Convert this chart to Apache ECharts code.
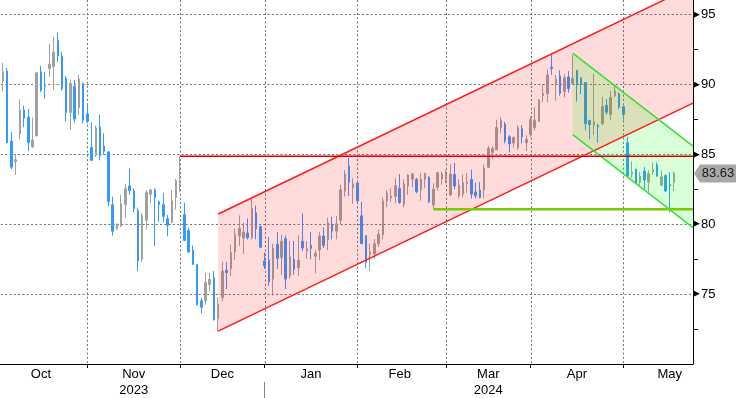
<!DOCTYPE html>
<html>
<head>
<meta charset="utf-8">
<script src="https://cdn.jsdelivr.net/npm/echarts@6.0.0/dist/echarts.min.js"></script>
<style>
  html, body { margin: 0; padding: 0; background: #fff; }
  #chart { width: 736px; height: 398px; }
</style>
</head>
<body>
<div id="chart"></div>
<script>
// daily candles, one row per session: [open, close, low, high]
var oct23 = [
  [88.0, 90.0, 87.5, 90.9], [90.23, 90.88, 89.49, 91.53], [90.95, 85.81, 85.8, 91.16],
  [85.93, 84.07, 83.91, 86.58], [84.47, 84.6, 83.51, 84.95], [86.44, 88.16, 86.05, 88.93],
  [88.16, 87.56, 86.93, 88.47], [87.65, 85.81, 85.23, 88.23], [85.53, 86.0, 85.44, 87.63],
  [86.3, 90.81, 86.3, 90.88], [90.88, 89.56, 89.44, 91.3], [89.85, 89.81, 88.95, 90.88],
  [91.12, 91.44, 90.53, 92.9], [91.26, 92.28, 89.6, 93.4], [93.12, 92.02, 91.58, 93.67],
  [92.02, 89.67, 89.55, 92.33], [90.4, 87.98, 87.35, 90.6], [87.98, 90.05, 86.72, 90.33],
  [89.84, 87.51, 87.26, 90.3], [88.33, 90.37, 87.81, 90.67], [90.05, 87.42, 87.2, 90.12],
  [87.88, 87.35, 87.2, 88.58]
];
var nov23 = [
  [85.47, 84.56, 84.56, 87.26], [84.95, 86.86, 84.79, 87.02], [86.93, 84.9, 84.56, 87.81],
  [85.58, 85.19, 84.95, 86.49], [85.16, 81.61, 81.3, 85.2], [81.38, 79.49, 79.19, 81.95],
  [79.65, 80.0, 79.6, 80.06], [79.84, 81.45, 79.84, 82.09], [81.4, 82.52, 80.43, 82.87],
  [82.73, 82.4, 82.09, 83.98], [82.37, 81.1, 80.84, 82.56], [80.95, 77.36, 76.65, 81.19],
  [77.48, 80.62, 77.29, 80.79], [80.27, 82.28, 79.63, 82.42], [82.14, 82.44, 81.5, 82.52],
  [82.44, 81.9, 78.42, 82.56], [81.59, 81.4, 80.17, 81.69], [81.38, 80.55, 80.13, 82.23],
  [80.39, 79.91, 79.13, 80.65], [80.13, 81.66, 80.08, 82.44], [81.9, 83.11, 81.03, 83.23],
  [82.75, 82.88, 82.3, 84.85]
];
var dec23 = [
  [80.67, 78.83, 78.78, 81.52], [79.54, 78.0, 77.95, 79.75], [78.12, 77.12, 77.07, 78.47],
  [77.12, 74.24, 74.17, 77.12], [74.52, 74.05, 73.62, 74.71], [74.52, 75.84, 74.24, 76.5],
  [75.66, 76.06, 75.23, 76.5], [76.18, 73.17, 73.1, 76.65], [73.22, 74.28, 72.34, 74.76],
  [74.76, 76.63, 74.47, 77.31], [76.7, 76.53, 75.36, 77.3], [76.82, 77.96, 76.3, 78.53],
  [78.01, 79.24, 77.44, 79.69], [79.15, 79.69, 78.44, 80.62], [79.0, 79.43, 77.87, 80.1],
  [79.36, 79.03, 78.91, 80.4], [79.03, 81.11, 78.91, 81.8], [80.81, 79.67, 78.91, 81.33],
  [79.81, 78.34, 78.27, 79.9], [77.37, 77.01, 76.8, 77.96]
];
var jan24 = [
  [77.42, 75.88, 75.6, 79.08], [76.07, 78.27, 74.88, 78.6], [78.55, 77.56, 76.78, 79.43],
  [77.63, 78.77, 76.37, 79.24], [78.96, 76.07, 75.36, 79.19], [76.3, 77.65, 76.1, 78.79],
  [77.49, 76.78, 76.37, 78.79], [76.9, 77.41, 76.3, 79.2], [78.77, 78.29, 78.06, 80.76],
  [78.06, 78.25, 77.53, 78.79], [78.48, 78.27, 77.49, 79.43], [77.7, 77.91, 76.49, 78.15],
  [78.15, 79.15, 77.44, 79.43], [79.15, 78.48, 78.29, 79.76], [78.86, 80.09, 78.13, 80.45],
  [79.98, 79.5, 78.91, 80.52], [79.5, 80.02, 78.91, 80.57], [80.28, 82.46, 80.0, 82.82],
  [82.37, 83.58, 81.97, 83.86], [84.15, 82.99, 82.01, 84.72], [82.61, 82.87, 81.45, 83.29],
  [82.94, 81.66, 81.6, 82.94]
];
var feb24 = [
  [80.59, 78.6, 78.6, 81.59], [79.17, 77.27, 76.87, 79.17], [77.82, 77.99, 76.66, 78.6],
  [77.87, 78.6, 77.51, 78.93], [78.6, 79.27, 78.37, 79.6], [79.24, 81.66, 78.89, 81.9],
  [81.66, 82.2, 81.21, 82.44], [81.87, 82.01, 81.59, 82.56], [81.97, 82.75, 81.5, 83.27],
  [82.56, 81.54, 81.45, 83.58], [81.42, 82.87, 81.2, 83.2], [82.73, 83.51, 82.09, 83.58],
  [83.22, 83.58, 82.63, 83.67], [83.2, 82.32, 82.2, 83.3], [82.44, 83.2, 81.68, 83.67],
  [83.2, 83.63, 82.6, 83.67], [83.34, 81.59, 81.5, 83.44], [81.37, 82.49, 81.1, 82.91],
  [82.63, 83.67, 82.4, 83.74], [83.22, 83.58, 82.8, 83.74], [83.2, 83.6, 82.9, 83.9]
];
var mar24 = [
  [82.09, 83.58, 82.0, 84.3], [83.54, 82.72, 82.49, 84.37], [82.02, 82.77, 81.83, 83.19],
  [82.14, 82.96, 81.9, 83.54], [82.91, 83.0, 82.25, 83.66], [83.19, 82.14, 81.83, 83.9],
  [82.3, 82.02, 81.83, 82.96], [82.44, 81.9, 81.83, 83.0], [82.44, 84.01, 81.83, 84.25],
  [84.06, 85.42, 84.06, 85.59], [85.12, 85.4, 84.65, 85.59], [85.31, 86.9, 85.31, 87.46],
  [86.9, 87.42, 86.48, 87.65], [87.14, 85.96, 85.77, 87.3], [86.24, 85.73, 85.12, 86.36],
  [85.8, 86.2, 85.47, 86.24], [85.47, 86.9, 85.31, 87.07], [86.83, 86.24, 85.77, 87.07],
  [85.82, 86.06, 85.23, 86.36], [86.41, 87.49, 86.24, 87.7]
];
var apr24 = [
  [86.9, 87.42, 86.7, 88.36], [87.35, 88.87, 87.3, 88.94], [89.2, 89.34, 88.71, 90.0],
  [89.34, 90.66, 88.71, 91.06], [91.22, 91.13, 90.66, 92.1], [90.05, 90.35, 88.83, 90.66],
  [90.59, 89.34, 89.18, 90.99], [89.48, 90.47, 89.06, 90.7], [90.52, 89.69, 89.41, 90.94],
  [90.05, 90.42, 89.95, 92.11], [90.99, 90.05, 88.76, 90.99], [90.42, 90.0, 89.3, 90.52],
  [90.12, 87.18, 86.71, 90.12], [87.42, 87.11, 86.08, 87.42], [87.07, 87.3, 86.36, 90.75],
  [87.07, 86.95, 85.82, 87.18], [87.18, 88.4, 87.07, 89.11], [88.47, 88.0, 87.84, 88.94],
  [87.84, 89.06, 87.42, 89.53], [89.18, 89.53, 89.06, 89.88], [89.3, 88.36, 88.24, 89.41],
  [88.4, 87.84, 87.46, 88.45]
];
var may24 = [
  [85.82, 83.47, 83.43, 86.24], [83.57, 83.71, 83.31, 84.48], [83.94, 82.91, 82.91, 83.94],
  [83.0, 83.43, 82.79, 83.73], [83.78, 83.15, 82.49, 84.08], [83.0, 83.61, 82.2, 83.85],
  [83.75, 83.9, 83.54, 84.41], [84.25, 83.43, 83.38, 84.41], [82.77, 83.38, 82.77, 83.85],
  [83.47, 82.37, 82.3, 83.54], [82.84, 82.72, 80.85, 83.71], [83.0, 83.63, 82.37, 83.78]
];

var monthNames = ['Oct', 'Nov', 'Dec', 'Jan', 'Feb', 'Mar', 'Apr', 'May'];
var monthSessions = [22, 22, 20, 22, 21, 20, 22, 22]; // full month (May still running)
var yearNames = ['2023', '2024'];
var yearMonth = [1, 5];          // year label sits under Nov / Mar
var emptySlots = 4;
var lastPrice = 83.63;
var halfTicks = [72.5, 77.5, 82.5, 87.5, 92.5];

// drawings, [session index, price]
var redUpper = [[52, 80.72], [164.5, 97.02]];
var redLower = [[52, 72.35], [164.5, 88.65]];
var greenUpper = [[136, 92.22], [164.5, 85.57]];
var greenLower = [[136, 86.40], [164.5, 79.75]];
var redLevel = [[43, 84.85], [164.5, 84.85]];
var greenLevel = [[103, 81.06], [164.5, 81.06]];

var months = [oct23, nov23, dec23, jan24, feb24, mar24, apr24, may24];
var candles = [];
var categories = [];
months.forEach(function (m, mi) {
  m.forEach(function (row, k) {
    candles.push(row);
    categories.push(monthNames[mi] + ' ' + (k + 1));
  });
});
for (var e = 0; e < emptySlots; e++) categories.push('');
var N = categories.length;

var monthEnds = [];
var acc = -1;
monthSessions.forEach(function (n) { acc += n; monthEnds.push(acc); });
var monthLabelAt = {};
monthEnds.forEach(function (end, i) {
  var prev = i ? monthEnds[i - 1] : -1;
  monthLabelAt[Math.floor((prev + end) / 2)] = monthNames[i];
});
var yearLabelAt = {};
yearMonth.forEach(function (mi, k) {
  var prev = mi ? monthEnds[mi - 1] : -1;
  yearLabelAt[Math.floor((prev + monthEnds[mi]) / 2)] = yearNames[k];
});
var yearBreak = monthEnds[2];
var gridEnds = monthEnds.filter(function (v) { return v < candles.length; });

var chart = echarts.init(document.getElementById('chart'), null, { renderer: 'canvas' });

var FONT = 'Liberation Sans';

function bandSeries(up, low, fill) {
  return {
    type: 'custom', xAxisIndex: 1, yAxisIndex: 0, z: 3, silent: true, clip: true,
    data: [[up[0][0], up[0][1]]],
    renderItem: function (params, api) {
      var pts = [api.coord(up[0]), api.coord(up[1]), api.coord(low[1]), api.coord(low[0])];
      return { type: 'polygon', shape: { points: pts }, style: { fill: fill } };
    }
  };
}
function lineSeries(pts, color, width, z) {
  return {
    type: 'line', xAxisIndex: 1, yAxisIndex: 0, data: pts, symbol: 'none', silent: true,
    z: z || 4, clip: true, lineStyle: { color: color, width: width }
  };
}

var option = {
  animation: false,
  backgroundColor: '#fff',
  grid: { left: -3.4, right: 43, top: 0, bottom: 34, containLabel: false, outerBoundsMode: 'none' },
  xAxis: [
    {
      type: 'category', data: categories, boundaryGap: true,
      axisLine: { show: true, onZero: false, lineStyle: { color: '#000', width: 1 } },
      axisTick: {
        show: true, alignWithLabel: true, length: 4, lineStyle: { color: '#000' },
        interval: function (i) { return gridEnds.indexOf(i) >= 0; }
      },
      axisLabel: {
        interval: function (i) { return monthLabelAt[i] !== undefined; },
        formatter: function (v, i) { return monthLabelAt[i] || ''; },
        color: '#000', fontFamily: FONT, fontSize: 13, margin: 4
      },
      splitLine: { show: false }
    },
    { type: 'value', min: -0.5, max: N - 0.5, show: false, axisLine: { onZero: false } },
    {
      type: 'category', data: categories, boundaryGap: true, position: 'bottom', offset: 18,
      axisLine: { show: false, onZero: false },
      axisTick: {
        show: true, alignWithLabel: true, length: 16, lineStyle: { color: '#808080' },
        interval: function (i) { return i === yearBreak; }
      },
      axisLabel: {
        interval: function (i) { return yearLabelAt[i] !== undefined; },
        formatter: function (v, i) { return yearLabelAt[i] || ''; },
        color: '#000', fontFamily: FONT, fontSize: 13, margin: 2
      },
      splitLine: { show: false }
    }
  ],
  yAxis: [{
    type: 'value', position: 'right', min: 70, max: 96.02, interval: 5,
    axisLine: { show: true, onZero: false, lineStyle: { color: '#000', width: 1 } },
    axisTick: { show: false },
    splitLine: { show: true, showMaxLine: false, lineStyle: { color: '#707070', width: 1, type: [2, 2.3] } },
    axisLabel: {
      showMinLabel: false, showMaxLabel: false, margin: 0,
      formatter: function (v) { return '{a|\u25B6}{b|' + v + '}'; },
      rich: {
        a: { fontFamily: 'DejaVu Sans', fontSize: 9, color: '#000' },
        b: { fontFamily: FONT, fontSize: 13, color: '#000', padding: [0, 0, 0, 1] }
      }
    }
  }],
  series: [
    {
      type: 'custom', xAxisIndex: 1, yAxisIndex: 0, z: 1, silent: true,
      data: gridEnds.map(function (v) { return [v, 80]; }),
      renderItem: function (params, api) {
        var x = Math.round(api.coord([api.value(0), api.value(1)])[0]) + 0.5;
        var cs = params.coordSys;
        return {
          type: 'line',
          shape: { x1: x, y1: cs.y, x2: x, y2: cs.y + cs.height },
          style: { stroke: '#707070', lineWidth: 1, lineDash: [2, 2.3] }
        };
      }
    },
    {
      type: 'candlestick', xAxisIndex: 0, yAxisIndex: 0, data: candles, z: 2, silent: true,
      barWidth: 2,
      itemStyle: {
        color: '#A0A0A0', color0: '#3399FF',
        borderColor: '#A0A0A0', borderColor0: '#3399FF', borderWidth: 1
      }
    },
    bandSeries(redUpper, redLower, 'rgba(255,0,0,0.14)'),
    bandSeries(greenUpper, greenLower, 'rgba(0,255,0,0.15)'),
    lineSeries(redUpper, '#FF1A1A', 1.5),
    lineSeries(redLower, '#FF1A1A', 1.5),
    lineSeries(greenUpper, '#33E033', 1.5),
    lineSeries(greenLower, '#33E033', 1.5),
    lineSeries(redLevel, '#DD0000', 1.3),
    lineSeries(greenLevel, '#77CC00', 2.5),
    {
      // half-step marks on the price scale
      type: 'custom', xAxisIndex: 1, yAxisIndex: 0, z: 6, silent: true, clip: false,
      data: halfTicks.map(function (v) { return [N - 0.5, v]; }),
      renderItem: function (params, api) {
        var p = api.coord([api.value(0), api.value(1)]);
        var x = Math.round(p[0]);
        var y = Math.round(p[1]) + 0.5;
        return { type: 'line', shape: { x1: x, y1: y, x2: x + 5, y2: y }, style: { stroke: '#000', lineWidth: 1 } };
      }
    },
    {
      type: 'custom', xAxisIndex: 1, yAxisIndex: 0, z: 6, silent: true, clip: false,
      data: [[N - 0.5, lastPrice]],
      renderItem: function (params, api) {
        var p = api.coord([api.value(0), api.value(1)]);
        var x0 = p[0] + 1;
        var y = Math.round(p[1]) + 0.5;
        return {
          type: 'group',
          children: [
            {
              type: 'polygon',
              shape: { points: [[x0, y], [x0 + 6, y - 9], [x0 + 44, y - 9], [x0 + 44, y + 9], [x0 + 6, y + 9]] },
              style: { fill: '#A8A8A8' }
            },
            {
              type: 'text',
              style: {
                text: lastPrice.toFixed(2), x: x0 + 24, y: y, align: 'center', verticalAlign: 'middle',
                fill: '#1a1a1a', font: '13px "' + FONT + '"'
              }
            }
          ]
        };
      }
    }
  ]
};
chart.setOption(option);
</script>
</body>
</html>
